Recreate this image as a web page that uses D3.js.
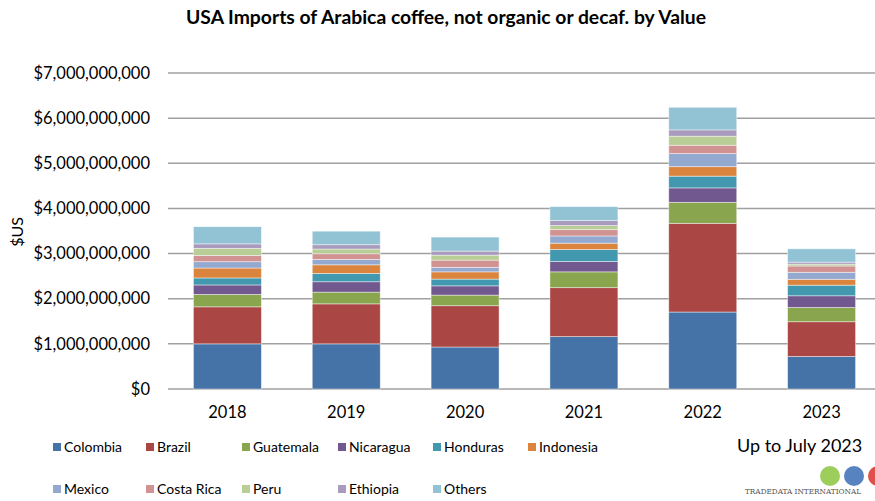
<!DOCTYPE html>
<html>
<head>
<meta charset="utf-8">
<script src="https://cdn.jsdelivr.net/npm/d3@7"></script>
<style>
  body { margin: 0; background: #fff; }
  svg text { font-family: Lato, "Open Sans", sans-serif; fill: #000; }
</style>
</head>
<body>
<div id="chart"></div>
<script>
// values in millions of USD
var years = ['2018', '2019', '2020', '2021', '2022', '2023'];
var countries = ['Colombia', 'Brazil', 'Guatemala', 'Nicaragua', 'Honduras', 'Indonesia',
                 'Mexico', 'Costa Rica', 'Peru', 'Ethiopia', 'Others'];
var colombia  = [1000, 1000,  930, 1160, 1705,  720];
var brazil    = [ 820,  886,  915, 1085, 1965,  770];
var guatemala = [ 275,  260,  235,  350,  465,  315];
var nicaragua = [ 210,  230,  205,  230,  320,  260];
var honduras  = [ 155,  185,  150,  265,  260,  235];
var indonesia = [ 220,  190,  160,  140,  210,  130];
var mexico    = [ 140,  120,  100,  160,  290,  155];
var costaRica = [ 140,  125,  160,  140,  185,  140];
var peru      = [ 155,  105,  110,   90,  200,   40];
var ethiopia  = [ 100,   95,   90,  110,  140,   45];
var others    = [ 380,  300,  310,  310,  500,  295];
var colors = ['#4572A7', '#AA4643', '#89A54E', '#71588F', '#4198AF', '#DB843D',
              '#93A9CF', '#D19392', '#B9CD96', '#A99BBD', '#92C3D4'];
var yTicks = [0, 1000, 2000, 3000, 4000, 5000, 6000, 7000];

var series = [colombia, brazil, guatemala, nicaragua, honduras, indonesia,
              mexico, costaRica, peru, ethiopia, others];

var width = 875, height = 501;

var rows = years.map(function (y, i) {
    var r = { year: y };
    countries.forEach(function (c, k) { r[c] = series[k][i]; });
    return r;
});

var stacked = d3.stack().keys(countries)(rows);

var svg = d3.select('#chart').append('svg')
    .attr('width', width)
    .attr('height', height);

var x = d3.scaleBand()
    .domain(years)
    .range([168, 881])
    .paddingInner(0.428)
    .paddingOuter(0.214);

var y = d3.scaleLinear()
    .domain([0, 7000])
    .range([389, 73]);

// gridlines
svg.append('g')
    .selectAll('line')
    .data(yTicks)
    .enter()
    .append('line')
    .attr('x1', 168)
    .attr('x2', 875)
    .attr('y1', function (d) { return y(d); })
    .attr('y2', function (d) { return y(d); })
    .style('stroke', '#a0a0a0')
    .style('stroke-width', 1.5);

// y labels
svg.append('g')
    .selectAll('text')
    .data(yTicks)
    .enter()
    .append('text')
    .attr('x', 150)
    .attr('y', function (d) { return y(d); })
    .attr('dy', '0.35em')
    .attr('text-anchor', 'end')
    .style('font-size', '16.5px')
    .text(function (d) { return '$' + d3.format(',')(d * 1000000); });

// bars
svg.append('g')
    .selectAll('g')
    .data(stacked)
    .enter()
    .append('g')
    .style('fill', function (d, i) { return colors[i]; })
    .selectAll('rect')
    .data(function (d) { return d; })
    .enter()
    .append('rect')
    .attr('x', function (d) { return x(d.data.year); })
    .attr('y', function (d) { return y(d[1]); })
    .attr('width', x.bandwidth())
    .attr('height', function (d) { return y(d[0]) - y(d[1]); })
    .style('stroke', '#ffffff')
    .style('stroke-opacity', 0.55)
    .style('stroke-width', 0.8);

// x labels
svg.append('g')
    .selectAll('text')
    .data(years)
    .enter()
    .append('text')
    .attr('x', function (d) { return x(d) + x.bandwidth() / 2; })
    .attr('y', 418)
    .attr('text-anchor', 'middle')
    .style('font-size', '16.5px')
    .text(function (d) { return d; });

// title
svg.append('text')
    .attr('x', 446)
    .attr('y', 24)
    .attr('text-anchor', 'middle')
    .attr('textLength', 520)
    .attr('lengthAdjust', 'spacingAndGlyphs')
    .style('font-size', '18px')
    .style('font-weight', 'bold')
    .text('USA Imports of Arabica coffee, not organic or decaf. by Value');

// y axis title
svg.append('text')
    .attr('transform', 'translate(23,232) rotate(-90)')
    .attr('text-anchor', 'middle')
    .style('font-size', '16px')
    .text('$US');

// legend
var legendX = [53, 146, 242, 338, 433, 528];
var legend = svg.append('g')
    .selectAll('g')
    .data(countries)
    .enter()
    .append('g')
    .attr('transform', function (d, i) {
        return 'translate(' + legendX[i % 6] + ',' + (i < 6 ? 447 : 489) + ')';
    });

legend.append('rect')
    .attr('x', 0)
    .attr('y', -4)
    .attr('width', 8)
    .attr('height', 8)
    .style('fill', function (d, i) { return colors[i]; });

legend.append('text')
    .attr('x', 11)
    .attr('dy', '0.35em')
    .style('font-size', '14px')
    .text(function (d) { return d; });

svg.append('text')
    .attr('x', 737)
    .attr('y', 452)
    .style('font-size', '18px')
    .text('Up to July 2023');

// little logo, bottom right
var logo = svg.append('g');
logo.selectAll('circle')
    .data([['#8cc63f', 830], ['#3a6fb5', 854], ['#d9302b', 878]])
    .enter()
    .append('circle')
    .attr('cx', function (d) { return d[1]; })
    .attr('cy', 476)
    .attr('r', 10)
    .style('fill', function (d) { return d[0]; })
    .style('opacity', 0.85);
logo.append('text')
    .attr('x', 745)
    .attr('y', 494)
    .attr('textLength', 116)
    .attr('lengthAdjust', 'spacingAndGlyphs')
    .style('font-family', '"DejaVu Serif", serif')
    .style('font-size', '8px')
    .style('fill', '#555')
    .text('TRADEDATA INTERNATIONAL');
</script>
</body>
</html>
